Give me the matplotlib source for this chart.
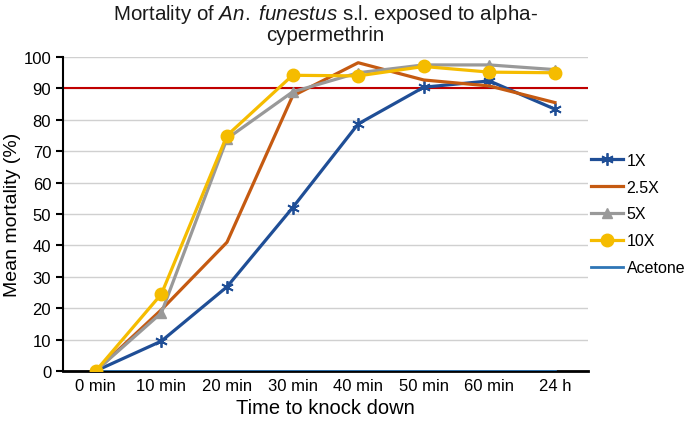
import numpy as np
import matplotlib.pyplot as plt

plt.rcParams['font.family'] = ['Liberation Sans', 'DejaVu Sans']
plt.rcParams['mathtext.fontset'] = 'custom'
plt.rcParams['mathtext.it'] = 'Liberation Sans:italic'
plt.rcParams['mathtext.rm'] = 'Liberation Sans'

times = ['0 min', '10 min', '20 min', '30 min', '40 min', '50 min', '60 min', '24 h']
x1 = [0, 9.5, 26.8, 52, 78.7, 90.4, 92.4, 83.4]
x25 = [0, 19.5, 41, 87.6, 98.2, 92.7, 90.8, 85.5]
x5 = [0, 18.5, 74, 88.9, 95, 97.5, 97.5, 96]
x10 = [0, 24.5, 75, 94.2, 94, 97, 95.2, 95]
acetone = [0, 0, 0, 0, 0, 0, 0, 0]
threshold = 90

fig = plt.figure(figsize=(6.85, 4.27), dpi=100)
ax = fig.add_axes([0.092, 0.129, 0.766, 0.735])
pos = np.arange(len(times))

ax.axhline(threshold, color='#C00000', lw=1.5, zorder=2)
ax.plot(pos, acetone, color='#2E75B6', lw=2, label='Acetone', zorder=3)
ax.plot(pos, x1, color='#1F4E96', lw=2.3, marker=(6, 2, 0), ms=9, mew=1.3, label='1X', zorder=4)
ax.plot(pos, x25, color='#C55A11', lw=2.3, label='2.5X', zorder=4)
ax.plot(pos, x5, color='#999999', lw=2.3, marker='^', ms=7, label='5X', zorder=4)
ax.plot(pos, x10, color='#F5BC00', lw=2.3, marker='o', ms=9, label='10X', zorder=5)

ax.set_xlim(-0.5, len(times) - 0.5)
ax.set_ylim(0, 100)
ax.set_yticks(range(0, 101, 10))
ax.set_xticks(pos)
ax.set_xticklabels(times)
ax.tick_params(axis='x', length=0, labelsize=12, pad=5)
ax.tick_params(axis='y', length=5, width=1.5, labelsize=12, direction='out')
ax.grid(axis='y', color='#D0D0D0', lw=1)
ax.set_axisbelow(True)
for s in ['top', 'right']:
    ax.spines[s].set_visible(False)
ax.spines['left'].set_linewidth(1.5)
ax.spines['bottom'].set_linewidth(2)

ax.set_xlabel('Time to knock down', fontsize=14.5, labelpad=4)
ax.set_ylabel('Mean mortality (%)', fontsize=14, labelpad=2)
ax.set_title('Mortality of $\\mathit{An.}$ $\\mathit{funestus}$ s.l. exposed to alpha-\ncypermethrin',
             fontsize=14.8, pad=12, color='#1a1a1a', linespacing=1.0)

h, l = ax.get_legend_handles_labels()
order = [1, 2, 3, 4, 0]
ax.legend([h[i] for i in order], [l[i] for i in order], loc='center left',
          bbox_to_anchor=(0.995, 0.5), borderaxespad=0, frameon=False, fontsize=11.5,
          handlelength=2.0, handletextpad=0.2, labelspacing=0.75)

fig.savefig('out.png')
